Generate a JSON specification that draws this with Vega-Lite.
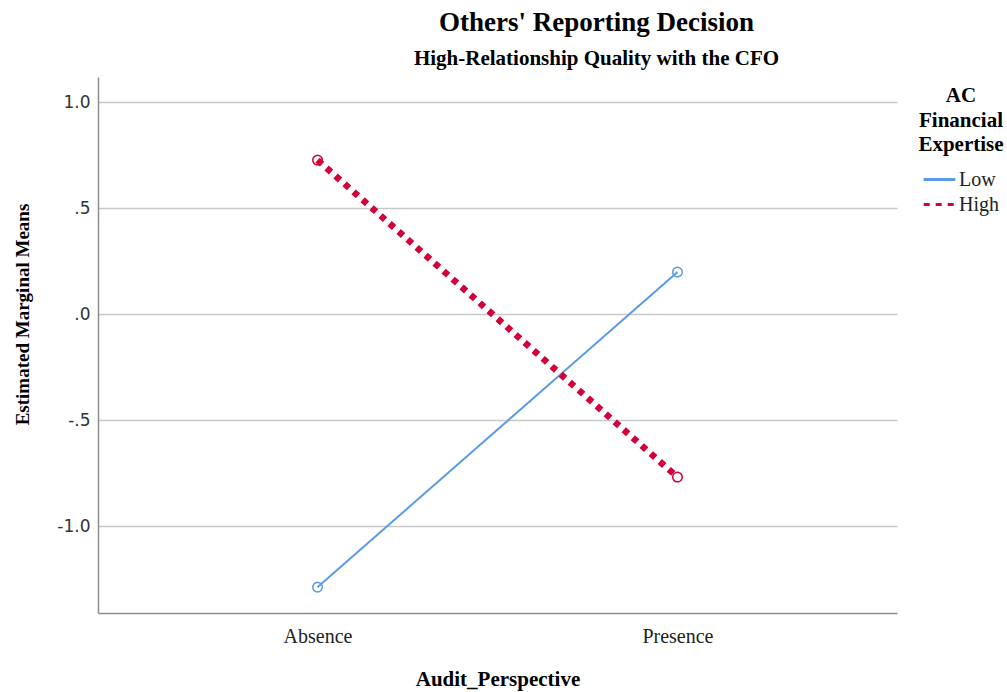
{
  "$schema": "https://vega.github.io/schema/vega-lite/v6.json",
  "autosize": "none",
  "width": 799,
  "height": 536,
  "padding": {"left": 98, "top": 77, "right": 110, "bottom": 79},
  "background": "white",
  "title": {
    "text": "Others' Reporting Decision",
    "subtitle": "High-Relationship Quality with the CFO",
    "anchor": "middle",
    "frame": "group",
    "dx": 99,
    "offset": 7,
    "font": "Liberation Serif",
    "fontSize": 27,
    "fontWeight": "bold",
    "color": "black",
    "subtitleFont": "Liberation Serif",
    "subtitleFontSize": 21,
    "subtitleFontWeight": "bold",
    "subtitleColor": "black",
    "subtitlePadding": 11
  },
  "data": {
    "values": [
      {"Audit_Perspective": "Absence", "Expertise": "Low", "mean": -1.288},
      {"Audit_Perspective": "Presence", "Expertise": "Low", "mean": 0.198},
      {"Audit_Perspective": "Absence", "Expertise": "High", "mean": 0.726},
      {"Audit_Perspective": "Presence", "Expertise": "High", "mean": -0.769}
    ]
  },
  "encoding": {
    "x": {
      "field": "Audit_Perspective",
      "type": "nominal",
      "sort": ["Absence", "Presence"],
      "scale": {"type": "point", "padding": 0.61},
      "axis": {
        "title": "Audit_Perspective",
        "labelAngle": 0,
        "ticks": false,
        "labelPadding": 13,
        "titlePadding": 22,
        "domainColor": "#8c8c8c",
        "domainWidth": 1.5,
        "labelFont": "Liberation Serif",
        "labelFontSize": 20,
        "labelColor": "#222",
        "titleFont": "Liberation Serif",
        "titleFontSize": 21,
        "titleFontWeight": "bold",
        "titleColor": "black"
      }
    },
    "y": {
      "field": "mean",
      "type": "quantitative",
      "scale": {"domain": [-1.41, 1.118], "nice": false, "zero": false},
      "axis": {
        "title": "Estimated Marginal Means",
        "values": [-1, -0.5, 0, 0.5, 1],
        "labelExpr": "datum.value == 0 ? '.0' : datum.value == 0.5 ? '.5' : datum.value == -0.5 ? '-.5' : datum.value == 1 ? '1.0' : '-1.0'",
        "ticks": false,
        "labelPadding": 8,
        "grid": true,
        "gridColor": "#c8c8c8",
        "gridWidth": 1.5,
        "domainColor": "#8c8c8c",
        "domainWidth": 1.5,
        "labelFont": "DejaVu Sans",
        "labelFontSize": 17,
        "labelColor": "#333",
        "titleFont": "Liberation Serif",
        "titleFontSize": 19,
        "titleFontWeight": "bold",
        "titleColor": "black",
        "titleX": -76,
        "titleY": 237,
        "titleAlign": "center",
        "titleBaseline": "middle"
      }
    },
    "color": {
      "field": "Expertise",
      "type": "nominal",
      "sort": ["Low", "High"],
      "scale": {"domain": ["Low", "High"], "range": ["#5b9be6", "#d4003a"]},
      "legend": {
        "title": ["AC", "Financial", "Expertise"],
        "orient": "none",
        "legendX": 820,
        "legendY": 8,
        "titleFont": "Liberation Serif",
        "titleFontSize": 21,
        "titleFontWeight": "bold",
        "titleColor": "black",
        "titleAnchor": "middle",
        "titleAlign": "center",
        "titleLineHeight": 24.5,
        "titlePadding": 12,
        "labelFont": "Liberation Serif",
        "labelFontSize": 20,
        "labelColor": "#222",
        "symbolType": "stroke",
        "symbolSize": 1000,
        "symbolStrokeWidth": 3,
        "rowPadding": 0,
        "clipHeight": 25,
        "labelOffset": 2,
        "encode": {"symbols": {"update": {"strokeWidth": {"value": 3}}}}
      }
    },
    "strokeDash": {
      "field": "Expertise",
      "type": "nominal",
      "sort": ["Low", "High"],
      "scale": {"domain": ["Low", "High"], "range": [[1, 0], [6, 6]]},
      "legend": {
        "title": ["AC", "Financial", "Expertise"],
        "encode": {"symbols": {"update": {"strokeWidth": {"value": 3}}}}
      }
    }
  },
  "layer": [
    {
      "transform": [{"filter": "datum.Expertise === 'Low'"}],
      "mark": {"type": "line", "strokeWidth": 2},
      "encoding": {}
    },
    {
      "transform": [{"filter": "datum.Expertise === 'High'"}],
      "mark": {"type": "line", "strokeWidth": 6.5},
      "encoding": {}
    },
    {
      "mark": {"type": "point", "shape": "circle", "filled": false, "size": 90, "strokeWidth": 1.5, "opacity": 1},
      "encoding": {"strokeDash": {"value": [1, 0]}}
    }
  ],
  "config": {
    "view": {"stroke": null}
  }
}
